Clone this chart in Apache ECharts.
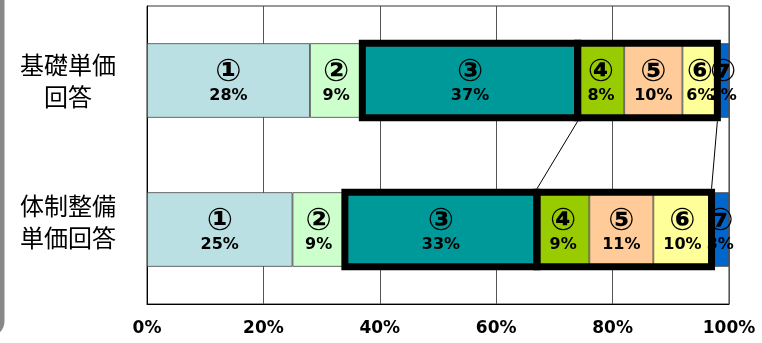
<!DOCTYPE html>
<html>
<head>
<meta charset="utf-8">
<script src="https://cdn.jsdelivr.net/npm/echarts@6/dist/echarts.min.js"></script>
<style>html,body{margin:0;padding:0;background:#fff;}#c{width:762px;height:343px;}</style>
</head>
<body>
<div id="c"></div>
<script>
const categories = ['基礎単価\n回答', '体制整備\n単価回答'];
const segmentNames = ['①', '②', '③', '④', '⑤', '⑥', '⑦'];
const seg1 = [28, 25];
const seg2 = [9, 9];
const seg3 = [37, 33];
const seg4 = [8, 9];
const seg5 = [10, 11];
const seg6 = [6, 10];
const seg7 = [2, 3];
const xTicks = [0, 20, 40, 60, 80, 100];

const allSegs = [seg1, seg2, seg3, seg4, seg5, seg6, seg7];
const colors = ['#BBE0E3', '#CCFFCC', '#009999', '#99CC00', '#FFCC99', '#FFFF99', '#0066CC'];

function cumStart(catIdx, segIdx) {
  let s = 0;
  for (let k = 0; k < segIdx; k++) s += allSegs[k][catIdx];
  return s;
}
const frameData = [];
categories.forEach((c, i) => {
  frameData.push([i, cumStart(i, 2), cumStart(i, 3), 0]);
  frameData.push([i, cumStart(i, 3), cumStart(i, 6), 1]);
});

const chart = echarts.init(document.getElementById('c'), null, {renderer: 'canvas'});

const barSeries = allSegs.map((arr, si) => ({
  name: segmentNames[si],
  type: 'bar',
  stack: 'total',
  barWidth: '50%',
  data: arr,
  itemStyle: {color: colors[si], borderColor: '#444', borderWidth: 0.8},
  label: {
    show: true,
    position: 'inside',
    offset: [0, 4],
    formatter: (p) => '{c|' + segmentNames[si] + '}\n{p|' + p.value + '%}',
    rich: {
      c: {fontFamily: 'DejaVu Sans', fontWeight: 'bold', fontSize: 31, color: '#000', lineHeight: 23},
      p: {fontFamily: 'DejaVu Sans', fontWeight: 'bold', fontSize: 16, color: '#000', lineHeight: 23}
    }
  },
  z: 2
}));

const frameSeries = {
  type: 'custom',
  coordinateSystem: 'cartesian2d',
  clip: false,
  z: 3,
  silent: true,
  data: frameData,
  renderItem: function (params, api) {
    const cat = api.value(0), s = api.value(1), e = api.value(2), kind = api.value(3);
    const band = api.size([0, 1])[1];
    const h = band * 0.5;
    const p1 = api.coord([s, cat]);
    const p2 = api.coord([e, cat]);
    const children = [{
      type: 'rect',
      shape: {x: p1[0], y: p1[1] - h / 2, width: p2[0] - p1[0], height: h},
      style: {fill: 'none', stroke: '#000', lineWidth: 7}
    }];
    if (kind === 1 && cat === 0) {
      const q1 = api.coord([cumStart(1, 3), 1]);
      const q2 = api.coord([cumStart(1, 6), 1]);
      children.push({
        type: 'line',
        shape: {x1: p1[0], y1: p1[1] + h / 2 + 3.5, x2: q1[0], y2: q1[1] - h / 2 - 3.5},
        style: {stroke: '#000', lineWidth: 1}
      });
      children.push({
        type: 'line',
        shape: {x1: p2[0], y1: p2[1] + h / 2 + 3.5, x2: q2[0], y2: q2[1] - h / 2 - 3.5},
        style: {stroke: '#000', lineWidth: 1}
      });
    }
    return {type: 'group', children: children};
  }
};

chart.setOption({
  animation: false,
  backgroundColor: '#fff',
  grid: {left: 147, right: 33, top: 6, bottom: 39, containLabel: false, outerBoundsMode: 'none',
         show: true, borderColor: '#333', borderWidth: 1, backgroundColor: 'transparent'},
  xAxis: {
    type: 'value',
    min: xTicks[0],
    max: xTicks[xTicks.length - 1],
    interval: xTicks[1] - xTicks[0],
    axisLine: {show: true, lineStyle: {color: '#000'}},
    axisTick: {show: false},
    splitLine: {show: true, lineStyle: {color: '#555', width: 1}},
    axisLabel: {formatter: '{value}%', fontFamily: 'DejaVu Sans', fontWeight: 'bold', fontSize: 17, color: '#000', margin: 16}
  },
  yAxis: {
    type: 'category',
    inverse: true,
    data: categories,
    axisLine: {show: true, lineStyle: {color: '#000'}},
    axisTick: {show: false},
    axisLabel: {
      fontFamily: 'Noto Sans CJK JP', fontSize: 24, lineHeight: 32, color: '#000', align: 'center', margin: 79,
      formatter: function (value, index) {
        const lines = value.split('\n').map(l => '{a|' + l + '}');
        if (index === 1) lines.push('{s| }');
        return lines.join('\n');
      },
      rich: {
        a: {fontFamily: 'Noto Sans CJK JP', fontSize: 24, lineHeight: 32, color: '#000', align: 'center'},
        s: {fontSize: 10, lineHeight: 16}
      }
    }
  },
  graphic: [{
    type: 'rect',
    shape: {x: -30, y: -30, width: 32, height: 365, r: 14},
    style: {fill: 'none', stroke: '#888', lineWidth: 5},
    silent: true
  }],
  series: barSeries.concat([frameSeries])
});
</script>
</body>
</html>
